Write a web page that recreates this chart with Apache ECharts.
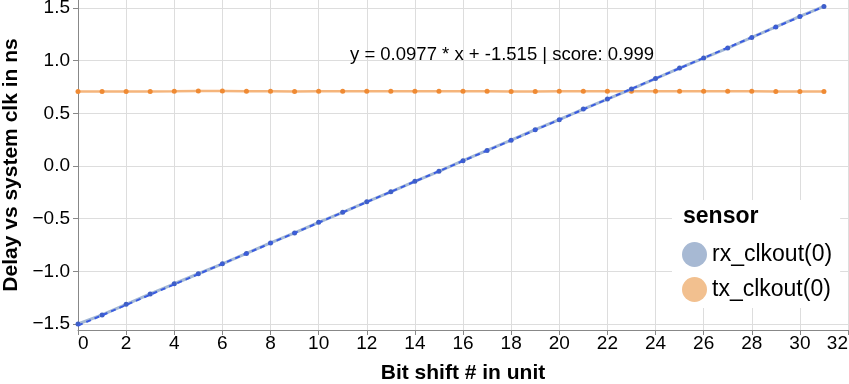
<!DOCTYPE html>
<html>
<head>
<meta charset="utf-8">
<script src="https://cdn.jsdelivr.net/npm/echarts@6/dist/echarts.min.js"></script>
<style>
  html, body { margin: 0; padding: 0; background: #fff; }
  #chart { width: 849px; height: 384px; }
</style>
</head>
<body>
<div id="chart"></div>
<script>
// bit shift positions
var bitShift = [0, 1, 2, 3, 4, 5, 6, 7, 8, 9, 10, 11, 12, 13, 14, 15,
  16, 17, 18, 19, 20, 21, 22, 23, 24, 25, 26, 27, 28, 29, 30, 31];
// delay in ns
var rxDelay = [-1.5, -1.414, -1.313, -1.215, -1.118, -1.023, -0.929, -0.83,
  -0.73, -0.635, -0.535, -0.44, -0.34, -0.245, -0.145, -0.05,
  0.05, 0.148, 0.245, 0.345, 0.44, 0.54, 0.635, 0.73,
  0.83, 0.93, 1.025, 1.12, 1.22, 1.32, 1.42, 1.515];
var txDelay = [0.708, 0.708, 0.708, 0.708, 0.709, 0.712, 0.712, 0.71,
  0.71, 0.708, 0.709, 0.709, 0.709, 0.709, 0.709, 0.709,
  0.709, 0.709, 0.708, 0.708, 0.709, 0.709, 0.709, 0.709,
  0.709, 0.709, 0.709, 0.709, 0.709, 0.708, 0.708, 0.708];
// regression line end points
var fitX = [0, 31];
var fitY = [-1.515, 1.514];
var yTicks = [-1.5, -1.0, -0.5, 0.0, 0.5, 1.0, 1.5];
var fitText = "y = 0.0977 * x + -1.515 | score: 0.999";

var FONT = "'Liberation Sans', Arial, Helvetica, sans-serif";

function pairs(xs, ys) {
  return xs.map(function (x, i) { return [x, ys[i]]; });
}

var chart = echarts.init(document.getElementById("chart"));
var option = {
  animation: false,
  textStyle: { fontFamily: FONT },
  grid: { left: 78, right: 1, top: 0, bottom: 54, outerBoundsMode: "none" },
  xAxis: {
    type: "value",
    min: 0,
    max: 32,
    interval: 2,
    name: "Bit shift # in unit",
    nameLocation: "middle",
    nameGap: 33,
    nameTextStyle: { fontSize: 21, fontWeight: "bold", color: "#000" },
    axisLine: { show: true, onZero: false, lineStyle: { color: "#888", width: 1 } },
    axisTick: { show: true, length: 5, lineStyle: { color: "#888" } },
    axisLabel: { fontSize: 19, color: "#000", margin: 4, alignMinLabel: "left", alignMaxLabel: "right" },
    splitLine: { show: true, lineStyle: { color: "#ddd" } }
  },
  yAxis: {
    type: "value",
    min: -1.557,
    max: 1.576,
    name: "Delay vs system clk in ns",
    nameLocation: "middle",
    nameGap: 55,
    nameTextStyle: { fontSize: 21, fontWeight: "bold", color: "#000" },
    axisLine: { show: true, onZero: false, lineStyle: { color: "#888", width: 1 } },
    axisTick: { show: true, length: 5, customValues: yTicks, lineStyle: { color: "#888" } },
    axisLabel: {
      fontSize: 19, color: "#000", margin: 8, customValues: yTicks,
      formatter: function (v) { return v.toFixed(1).replace("-", "\u2212"); }
    },
    splitLine: { show: true, lineStyle: { color: "#ddd" } }
  },
  legend: {
    orient: "vertical",
    left: 672,
    top: 200,
    padding: [42, 8, 6, 10],
    backgroundColor: "#fff",
    icon: "circle",
    itemWidth: 25,
    itemHeight: 25,
    itemGap: 10,
    textStyle: { fontSize: 23, color: "#000", fontFamily: FONT },
    data: [
      { name: "rx_clkout(0)", itemStyle: { color: "#a7b9d3" } },
      { name: "tx_clkout(0)", itemStyle: { color: "#f2c08f" } }
    ]
  },
  graphic: [
    {
      type: "text", left: 683, top: 205, z: 100,
      style: { text: "sensor", font: "bold 23px " + FONT, fill: "#000" }
    },
    {
      type: "text", left: 350, top: 45, z: 100,
      style: { text: fitText, font: "18.5px " + FONT, fill: "#000" }
    }
  ],
  series: [
    {
      name: "tx_clkout(0)",
      type: "line",
      data: pairs(bitShift, txDelay),
      symbol: "circle",
      symbolSize: 5,
      lineStyle: { color: "#f5b57c", width: 2.5 },
      itemStyle: { color: "#ef8a33" },
      z: 2
    },
    {
      name: "rx_clkout(0)",
      type: "line",
      data: pairs(bitShift, rxDelay),
      symbol: "circle",
      symbolSize: 5,
      lineStyle: { color: "#a5b9d5", width: 3 },
      itemStyle: { color: "#3f5fc6" },
      z: 3
    },
    {
      name: "fit",
      type: "line",
      data: pairs(fitX, fitY),
      symbol: "none",
      lineStyle: { color: "#3a5ce0", width: 2, type: [5, 4] },
      z: 4
    }
  ]
};
chart.setOption(option);
</script>
</body>
</html>
